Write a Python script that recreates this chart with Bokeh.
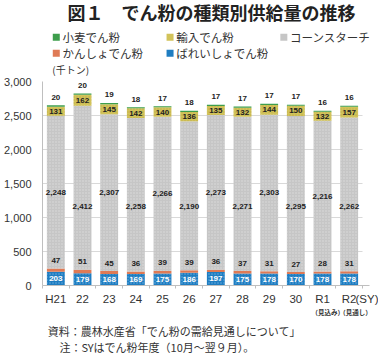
from bokeh.plotting import figure
from bokeh.layouts import column
from bokeh.models import (ColumnDataSource, AllLabels,
                          NumeralTickFormatter, Range1d, FixedTicker)
from bokeh.core.properties import value
from bokeh.embed import file_html
from bokeh.resources import INLINE

years = ["H21", "22", "23", "24", "25", "26", "27", "28", "29", "30", "R1", "R2"]
potato = [203, 179, 168, 169, 175, 186, 197, 175, 178, 170, 178, 178]
sweet = [47, 51, 45, 36, 39, 39, 36, 37, 31, 27, 28, 31]
corn = [2248, 2412, 2307, 2258, 2266, 2190, 2273, 2271, 2303, 2295, 2216, 2262]
imported = [131, 162, 145, 142, 140, 136, 135, 132, 144, 150, 132, 157]
wheat = [20, 20, 19, 18, 17, 18, 17, 17, 17, 17, 16, 16]

names = ["ばれいしょでん粉", "かんしょでん粉", "コーンスターチ", "輸入でん粉", "小麦でん粉"]
series = [potato, sweet, corn, imported, wheat]
colors = ["#1f7dc1", "#df7a55", "#c6c6c6", "#d2c35a", "#3e9e4c"]
hatches = ["dot", None, "dot", "dot", None]
hatch_cols = ["#8fc3ea", None, "#e8e8e8", "#b3a43e", None]

JP = "Noto Sans CJK JP"
NUM = "Liberation Sans"
W = 378

def bar_style(i):
    kw = dict(fill_color=colors[i], line_color=None)
    if hatches[i]:
        kw.update(hatch_pattern=hatches[i], hatch_color=hatch_cols[i],
                  hatch_alpha=0.7, hatch_scale=3, hatch_weight=1)
    return kw

# ---------------- stacked data ----------------
xs = list(range(len(years)))
data = {"x": xs}
acc = [0] * len(years)
for i, s in enumerate(series):
    data[f"b{i}"] = list(acc)
    acc = [a + v for a, v in zip(acc, s)]
    data[f"t{i}"] = list(acc)
    data[f"m{i}"] = [(b + t) / 2 for b, t in zip(data[f"b{i}"], data[f"t{i}"])]
    data[f"l{i}"] = [f"{v:,}" for v in s]
data["mc"] = [m if k % 2 == 0 else 1160 for k, m in enumerate(data["m2"])]
src = ColumnDataSource(data)

def blank(height, y0, y1):
    f = figure(width=W, height=height, x_range=Range1d(0, W), y_range=Range1d(y1, y0),
               output_backend="svg", toolbar_location=None, title=None,
               min_border=0, background_fill_color="white", border_fill_color="white")
    f.axis.visible = False
    f.grid.visible = False
    f.outline_line_color = None
    return f

def txt(f, t, x, y, size, align="left", bold=False, font=JP, color="#333333"):
    f.text(x=[x], y=[y], text=[t], text_font=value(font), text_font_size=size,
           text_align=align, text_baseline="middle", text_color=color,
           text_font_style="bold" if bold else "normal")

# ---------------- top: title + legend ----------------
TOP_H = 77
top = blank(TOP_H, 0, TOP_H)
txt(top, "図１　でん粉の種類別供給量の推移", 190, 11, "18px", "center", True, color="#222222")
txt(top, "(千トン)", 11, 69, "10px")

# legend: (series index, column, row)
legend_layout = [(4, 0, 0), (3, 1, 0), (2, 2, 0), (1, 0, 1), (0, 1, 1)]
col_x = [15.5, 143.5, 271.5]
row_y = [36.7, 52.7]
for si, c, r in legend_layout:
    top.scatter(x=[col_x[c]], y=[row_y[r]], marker="square", size=7,
                fill_color=colors[si], line_color=None)
    txt(top, names[si], col_x[c] + 7, row_y[r], "11.5px")

# ---------------- main chart ----------------
MAIN_H = 230
p = figure(x_range=Range1d(-0.5, 12.1), y_range=Range1d(0, 3000),
           width=W, height=MAIN_H, output_backend="svg", toolbar_location=None,
           min_border_left=39, min_border_right=0, min_border_top=4,
           min_border_bottom=21, background_fill_color="white",
           border_fill_color="white")
p.outline_line_color = None

for i in range(5):
    p.vbar(x="x", bottom=f"b{i}", top=f"t{i}", width=0.67, source=src, **bar_style(i))

lab = dict(source=src, text_font=value(NUM), text_font_size="8px",
           text_font_style="bold", text_align="center", text_baseline="middle")
p.text(x="x", y="m0", text="l0", text_color="white", **lab)
p.text(x="x", y="t1", text="l1", text_color="#222222", y_offset=-8, **lab)
p.text(x="x", y="mc", text="l2", text_color="#222222", **lab)
p.text(x="x", y="m3", text="l3", text_color="#222222", **lab)
p.text(x="x", y="t4", text="l4", text_color="#222222", y_offset=-8, **lab)

for ax in (p.xaxis, p.yaxis):
    ax.axis_label_standoff = 0
    ax.major_tick_line_color = None
    ax.major_tick_out = 0
    ax.axis_line_color = "#bfbfbf"

p.yaxis.ticker = FixedTicker(ticks=[0, 500, 1000, 1500, 2000, 2500, 3000])
p.yaxis.formatter = NumeralTickFormatter(format="0,0")
p.yaxis.minor_tick_line_color = None
p.yaxis.minor_tick_out = 0
p.yaxis.major_label_text_font = NUM
p.yaxis.major_label_text_font_size = "11px"
p.yaxis.major_label_text_color = "#333333"
p.yaxis.major_label_standoff = 11

SY_POS = 11.75
overrides = {i: y for i, y in enumerate(years)}
overrides[SY_POS] = "(SY)"
p.xaxis.ticker = FixedTicker(ticks=xs + [SY_POS],
                             minor_ticks=[i - 0.5 for i in range(len(years) + 1)])
p.xaxis.major_label_overrides = overrides
p.xaxis.major_label_policy = AllLabels()
p.xaxis.bounds = (-0.5, 11.76)
p.xaxis.minor_tick_line_color = "#bfbfbf"
p.xaxis.minor_tick_in = 0
p.xaxis.minor_tick_out = 3
p.xaxis.major_label_text_font = NUM
p.xaxis.major_label_text_font_size = "11.5px"
p.xaxis.major_label_text_color = "#333333"
p.xaxis.major_label_standoff = 4
p.xgrid.grid_line_color = None
p.ygrid.grid_line_color = "#d9d9d9"
try:
    p.ygrid.cross_bounds = (-0.5, 11.5)
except Exception:
    pass

# ---------------- bottom notes ----------------
BOT_H = 353 - TOP_H - MAIN_H
bot = blank(BOT_H, TOP_H + MAIN_H, 353)
txt(bot, "（見込み）", 321, 311, "6.5px", "center", True)
txt(bot, "（見通し）", 352, 311, "6.5px", "center", True)
txt(bot, "資料：農林水産省「でん粉の需給見通しについて」", 6, 330, "11px")
txt(bot, "注：SYはでん粉年度（10月～翌９月）。", 19, 346, "11px")

layout = column(top, p, bot, spacing=0)
open("out.html", "w").write(file_html(layout, INLINE))
